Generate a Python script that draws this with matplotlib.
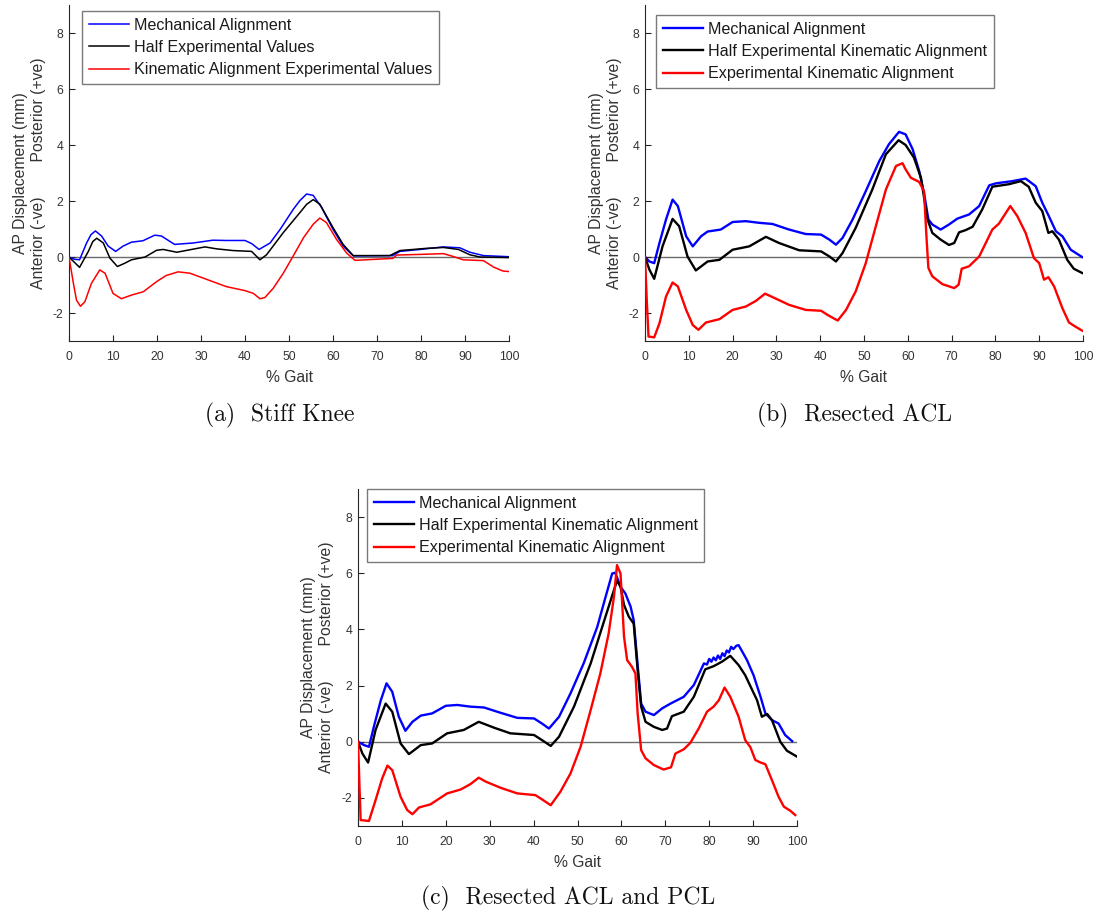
import matplotlib
matplotlib.use("Agg")
import matplotlib.pyplot as plt

plt.rcParams["font.family"] = ["Liberation Sans", "DejaVu Sans"]
plt.rcParams["axes.unicode_minus"] = False

# ---------------- (a) Stiff Knee ----------------
a_mech_x = [0, 1.2, 2.4, 4, 5, 6, 7.4, 8.9, 10.6, 12.3, 14.2, 16.8, 19.5, 21, 24, 28.2, 32.7,
            35.8, 40, 41.5, 43.2, 45.7, 48, 51, 52.5, 54, 55.5, 57.4, 60, 62.3, 64.6, 73.6,
            75.2, 79.8, 85, 88.8, 91.1, 94.2, 100]
a_mech_y = [0, -0.08, -0.1, 0.5, 0.8, 0.93, 0.75, 0.39, 0.2, 0.39, 0.53, 0.58, 0.78, 0.75,
            0.45, 0.5, 0.6, 0.59, 0.59, 0.48, 0.27, 0.5, 0.99, 1.71, 2.02, 2.25, 2.2, 1.77,
            0.99, 0.39, 0.04, 0.05, 0.2, 0.27, 0.36, 0.33, 0.17, 0.05, 0.01]

a_half_x = [0, 2.4, 4.4, 5.4, 6.3, 7.8, 9.3, 11, 12.7, 14.2, 17.3, 19.9, 21.4, 24.5, 30.9,
            33.6, 37.3, 41.5, 43.4, 44.9, 48.7, 52.5, 54, 55.5, 57, 60, 62.3, 64.6, 72.9,
            75.2, 81.3, 85.1, 88.5, 91.1, 93.4, 100]
a_half_y = [0, -0.37, 0.2, 0.55, 0.67, 0.5, -0.04, -0.34, -0.22, -0.1, 0, 0.24, 0.27, 0.17,
            0.36, 0.29, 0.23, 0.2, -0.1, 0.08, 0.87, 1.59, 1.88, 2.05, 1.89, 1.05, 0.45,
            0.05, 0.05, 0.23, 0.31, 0.34, 0.27, 0.08, 0, -0.02]

a_exp_x = [0, 1, 1.7, 2.6, 3.6, 5.1, 7, 8.2, 10, 11.9, 14.2, 16.9, 19.9, 22.1, 24.8, 27.5,
           32, 35.8, 40, 41.9, 43.4, 44.5, 46.4, 48.7, 50.9, 53.3, 55.5, 57, 58.5, 60.8,
           63.1, 65, 73.6, 74.5, 81.3, 85.1, 87.3, 89.6, 94.2, 96.5, 98.6, 100]
a_exp_y = [0, -0.94, -1.54, -1.76, -1.6, -0.94, -0.46, -0.58, -1.3, -1.49, -1.36, -1.24,
           -0.88, -0.66, -0.53, -0.58, -0.84, -1.06, -1.2, -1.3, -1.49, -1.45, -1.12, -0.58,
           0.02, 0.69, 1.17, 1.39, 1.23, 0.63, 0.14, -0.12, -0.05, 0.07, 0.1, 0.12, 0.02,
           -0.1, -0.13, -0.36, -0.5, -0.52]

# ---------------- (b) Resected ACL ----------------
b_mech_x = [0, 1, 2.1, 3.3, 4.8, 6.3, 7.5, 9.4, 10.9, 12.8, 14.3, 17.3, 20, 23, 26.1, 29.1,
            32.9, 36.7, 40.2, 42.1, 43.6, 45.1, 47.4, 50.4, 53.5, 55.7, 58, 59.5, 61.1, 62.6,
            63.7, 64.7, 65.6, 67.5, 69.4, 71.3, 74, 76.3, 78.6, 80.1, 83.9, 86.9, 89.2, 90.7,
            92.2, 93.8, 95.3, 97.2, 99.8]
b_mech_y = [0, -0.16, -0.22, 0.5, 1.34, 2.05, 1.82, 0.74, 0.38, 0.74, 0.91, 0.98, 1.25,
            1.28, 1.22, 1.18, 0.98, 0.82, 0.8, 0.62, 0.44, 0.68, 1.34, 2.35, 3.43, 4.03,
            4.47, 4.38, 3.85, 3.07, 2.29, 1.34, 1.16, 0.98, 1.16, 1.37, 1.52, 1.82, 2.56,
            2.63, 2.71, 2.8, 2.53, 1.94, 1.46, 0.92, 0.74, 0.26, 0]

b_half_x = [0, 1, 2.1, 4, 6.3, 7.8, 9.7, 11.6, 14.3, 17, 20, 23.8, 27.6, 30.6, 35.2, 40.2,
            42.1, 43.6, 45.1, 48.1, 51.9, 55, 57.9, 59.5, 61.4, 63, 64.5, 65.6, 67.5, 69.4,
            70.6, 71.7, 73.2, 74.8, 77, 79.3, 83.1, 85.8, 87.6, 89.2, 90.7, 92.1, 93, 94.5,
            96.4, 97.9, 99.8]
b_half_y = [0, -0.45, -0.78, 0.38, 1.36, 1.1, 0.02, -0.48, -0.16, -0.1, 0.26, 0.38, 0.72,
            0.5, 0.24, 0.2, 0.02, -0.16, 0.14, 1.04, 2.41, 3.67, 4.17, 4.0, 3.55, 2.83, 1.34,
            0.86, 0.62, 0.43, 0.5, 0.88, 0.96, 1.08, 1.7, 2.51, 2.6, 2.71, 2.51, 1.94, 1.64,
            0.86, 0.92, 0.62, -0.1, -0.42, -0.57]

b_exp_x = [0, 0.4, 0.8, 2.1, 3.3, 4.8, 6.3, 7.5, 9.4, 10.9, 12.2, 13.9, 17, 20, 23, 25.3,
           27.4, 29.1, 32.9, 36.7, 40.2, 41.7, 44, 45.9, 48.1, 50.4, 52.7, 55, 57.3, 58.8,
           59.5, 60.7, 62.6, 63.7, 64.3, 64.7, 65.6, 67.9, 70.6, 71.6, 72.3, 74, 76.3, 79.3,
           80.8, 83.4, 85, 86.9, 88.8, 90, 91.1, 92.1, 93.4, 95.3, 96.8, 98.3, 99.8]
b_exp_y = [0, -1.53, -2.84, -2.87, -2.37, -1.41, -0.91, -1.05, -1.89, -2.43, -2.6, -2.34,
           -2.22, -1.89, -1.77, -1.57, -1.31, -1.43, -1.71, -1.89, -1.92, -2.07, -2.27,
           -1.89, -1.23, -0.22, 1.1, 2.41, 3.25, 3.35, 3.13, 2.83, 2.68, 2.35, 0.62, -0.39,
           -0.69, -0.97, -1.11, -0.99, -0.42, -0.33, 0.02, 0.98, 1.19, 1.82, 1.46, 0.86,
           -0.04, -0.22, -0.81, -0.72, -1.05, -1.83, -2.34, -2.49, -2.63]

# ---------------- (c) Resected ACL and PCL ----------------
c_mech_x = [0, 1.4, 2.5, 3.6, 5.2, 6.5, 7.8, 9.3, 10.8, 12.4, 14.3, 16.9, 20, 22.6, 25.6,
            28.7, 32.5, 36.3, 40.1, 41.9, 43.5, 45.8, 48.4, 51.4, 54.5, 56.4, 57.9, 58.6,
            59.8, 60.9, 62.1, 62.8, 63.6, 64.5, 65.5, 67.4, 69.3, 71.2, 74.2, 76.5, 78.8,
            79.5, 80, 80.5, 81, 81.5, 82, 82.5, 83, 83.5, 84, 84.5, 85, 85.5, 86.2, 86.7,
            88.6, 90.1, 91.7, 92.8, 94.3, 95.8, 97.3, 98.9]
c_mech_y = [0, -0.12, -0.18, 0.53, 1.48, 2.08, 1.78, 0.89, 0.39, 0.71, 0.93, 1.01, 1.28,
            1.31, 1.25, 1.22, 1.03, 0.85, 0.83, 0.65, 0.47, 0.89, 1.72, 2.79, 4.09, 5.16,
            5.99, 6.02, 5.52, 5.28, 4.81, 4.33, 2.91, 1.36, 1.07, 0.95, 1.19, 1.36, 1.6,
            2.02, 2.79, 2.75, 2.95, 2.85, 3.0, 2.9, 3.07, 2.95, 3.15, 3.05, 3.25, 3.18, 3.38,
            3.3, 3.42, 3.44, 2.91, 2.37, 1.6, 1.01, 0.77, 0.65, 0.24, 0.02]

c_half_x = [0, 1, 2.3, 4, 6.3, 7.8, 9.7, 11.6, 14.3, 16.9, 20.3, 24.1, 27.5, 31, 34.7, 40.1,
            41.9, 43.9, 45.8, 49.2, 53, 56, 58.3, 59, 59.8, 60.6, 61.7, 62.8, 63.7, 64.5,
            65.5, 67.4, 69.3, 70.4, 71.5, 74.2, 76.5, 79.1, 81, 82.9, 84.8, 86.7, 88.2, 89.8,
            90.9, 92, 93.2, 94.3, 96.2, 97.7, 100]
c_half_y = [0, -0.42, -0.74, 0.42, 1.36, 1.07, -0.06, -0.44, -0.12, -0.06, 0.3, 0.42, 0.71,
            0.5, 0.3, 0.24, 0.06, -0.15, 0.18, 1.25, 2.79, 4.27, 5.4, 5.73, 5.52, 4.87, 4.45,
            4.21, 2.55, 1.25, 0.71, 0.53, 0.42, 0.47, 0.91, 1.07, 1.6, 2.58, 2.69, 2.85,
            3.06, 2.73, 2.37, 1.84, 1.48, 0.89, 0.99, 0.77, 0, -0.32, -0.53]

c_exp_x = [0, 0.6, 2.5, 4, 5.5, 6.7, 7.8, 9.7, 11.2, 12.4, 13.9, 16.5, 20.3, 23.4, 25.6, 27.5,
           29.1, 32.5, 36.3, 40.4, 41.9, 43.9, 46.1, 48.4, 50.7, 53, 55.2, 57.1, 58.3, 59,
           59.8, 60.6, 61.3, 62.4, 63.2, 63.7, 64.5, 65.5, 67.4, 69.6, 71.3, 72.3, 74.2,
           75.7, 77.6, 79.5, 81, 82.2, 83.5, 84.8, 86.7, 88.2, 89.4, 90.5, 91.7, 92.8, 94.3,
           95.8, 97, 98.5, 99.6]
c_exp_y = [0, -2.79, -2.82, -2.08, -1.31, -0.85, -1.01, -1.96, -2.43, -2.58, -2.34, -2.23,
           -1.84, -1.7, -1.51, -1.28, -1.42, -1.64, -1.84, -1.9, -2.05, -2.26, -1.78, -1.13,
           -0.18, 1.13, 2.43, 3.86, 5.16, 6.29, 5.99, 3.74, 2.91, 2.67, 2.43, 1.01, -0.3,
           -0.59, -0.83, -0.99, -0.91, -0.42, -0.27, -0.04, 0.47, 1.07, 1.25, 1.48, 1.93,
           1.6, 0.89, 0.06, -0.2, -0.65, -0.74, -0.8, -1.37, -1.96, -2.31, -2.46, -2.61]

legend_a = ["Mechanical Alignment", "Half Experimental Values",
            "Kinematic Alignment Experimental Values"]
legend_bc = ["Mechanical Alignment", "Half Experimental Kinematic Alignment",
             "Experimental Kinematic Alignment"]
captions = ["(a)  Stiff Knee", "(b)  Resected ACL", "(c)  Resected ACL and PCL"]
xticks = list(range(0, 101, 10))
yticks = [-2, 0, 2, 4, 6, 8]
ylabel = "AP Displacement (mm)\nAnterior (-ve)        Posterior (+ve)"

W, H = 1094, 911
fig = plt.figure(figsize=(W / 100, H / 100), dpi=100)
INK = "#262626"


def px_axes(left, top, right, bottom):
    return fig.add_axes([left / W, 1 - bottom / H, (right - left) / W, (bottom - top) / H])


def panel(ax, series, labels, lw, legend_anchor):
    ax.axhline(0, color="#6b6b6b", lw=1.0, zorder=1)
    colors = ["#0000ff", "#000000", "#ff0000"]
    for (x, y), c, lab in zip(series, colors, labels):
        ax.plot(x, y, color=c, lw=lw, label=lab, zorder=3, solid_joinstyle="round")
    ax.set_xlim(0, 100)
    ax.set_ylim(-3, 9)
    ax.set_xticks(xticks)
    ax.set_yticks(yticks)
    for s in ("top", "right"):
        ax.spines[s].set_visible(False)
    for s in ("left", "bottom"):
        ax.spines[s].set_color(INK)
        ax.spines[s].set_linewidth(0.8)
    ax.tick_params(direction="in", length=4, width=0.8, color=INK,
                   labelcolor="#333333", labelsize=8.8)
    ax.tick_params(axis="x", pad=7)
    ax.tick_params(axis="y", pad=4)
    ax.set_xlabel("% Gait", fontsize=11.3, color="#333333")
    ax.xaxis.set_label_coords(0.5, -0.085)
    leg = ax.legend(loc="upper left", bbox_to_anchor=legend_anchor, borderaxespad=0,
                    fontsize=11.6, frameon=True, fancybox=False, framealpha=1,
                    edgecolor="#7a7a7a", handlelength=2.5, handletextpad=0.3,
                    labelspacing=0.45, borderpad=0.42)
    leg.get_frame().set_linewidth(1.0)
    for t in leg.get_texts():
        t.set_color("#1a1a1a")


ax_a = px_axes(69, 5, 509, 341)
panel(ax_a, [(a_mech_x, a_mech_y), (a_half_x, a_half_y), (a_exp_x, a_exp_y)],
      legend_a, 1.1, (0.03, 0.982))
ax_b = px_axes(645, 5, 1083, 341)
panel(ax_b, [(b_mech_x, b_mech_y), (b_half_x, b_half_y), (b_exp_x, b_exp_y)],
      legend_bc, 1.7, (0.025, 0.970))
ax_c = px_axes(358, 489, 797, 826)
panel(ax_c, [(c_mech_x, c_mech_y), (c_half_x, c_half_y), (c_exp_x, c_exp_y)],
      legend_bc, 1.7, (0.02, 1.0))

# Two-line y labels placed beside each axis
for cx, cy in [(29.5, 173), (605, 173), (317, 657.5)]:
    fig.text(cx / W, 1 - cy / H, ylabel, rotation=90, ha="center", va="center",
             multialignment="center", fontsize=11.3, color="#333333", linespacing=1.25)

# Sub-figure captions
for text, cx, cy in zip(captions, [280, 855, 568], [415, 415, 898]):
    fig.text(cx / W, 1 - cy / H, text, ha="center", va="center", fontsize=17,
             family="cmr10", color="#111111")

fig.savefig("out.png", dpi=100, facecolor="white")
